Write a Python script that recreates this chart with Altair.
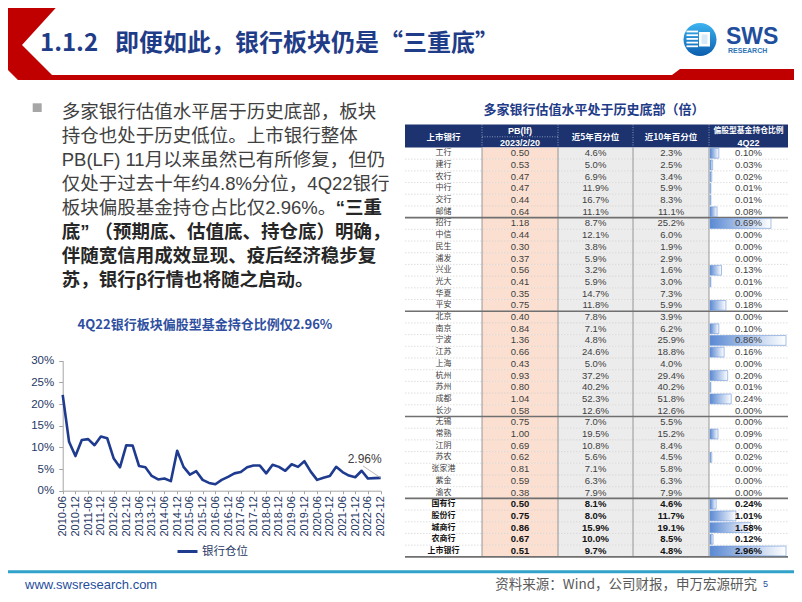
import altair as alt
import pandas as pd

# ---------------------------------------------------------------- data
# Line chart: bank sector weight in active equity funds (%), quarterly
quarters = ["2010-06", "2010-09", "2010-12",
            "2011-03", "2011-06", "2011-09", "2011-12",
            "2012-03", "2012-06", "2012-09", "2012-12",
            "2013-03", "2013-06", "2013-09", "2013-12",
            "2014-03", "2014-06", "2014-09", "2014-12",
            "2015-03", "2015-06", "2015-09", "2015-12",
            "2016-03", "2016-06", "2016-09", "2016-12",
            "2017-03", "2017-06", "2017-09", "2017-12",
            "2018-03", "2018-06", "2018-09", "2018-12",
            "2019-03", "2019-06", "2019-09", "2019-12",
            "2020-03", "2020-06", "2020-09", "2020-12",
            "2021-03", "2021-06", "2021-09", "2021-12",
            "2022-03", "2022-06", "2022-09", "2022-12"]
bank_weight_pct = [22.1, 11.3, 8.0,
                   11.7, 11.9, 10.5, 12.5,
                   12.1, 7.5, 5.4, 10.5,
                   10.4, 5.7, 5.4, 3.4,
                   2.6, 2.8, 2.2, 9.2,
                   5.5, 3.7, 4.5, 2.5,
                   1.8, 1.5, 2.5, 3.2,
                   4.0, 4.3, 5.4, 5.8,
                   5.8, 4.0, 6.0, 5.5,
                   4.6, 6.1, 5.5, 6.8,
                   4.4, 2.5, 3.0, 3.4,
                   5.5, 4.3, 3.5, 3.1,
                   4.6, 2.8, 2.9, 2.96]
x_tick_labels = ["2010-06", "2010-12", "2011-06", "2011-12", "2012-06", "2012-12",
                 "2013-06", "2013-12", "2014-06", "2014-12", "2015-06", "2015-12",
                 "2016-06", "2016-12", "2017-06", "2017-12", "2018-06", "2018-12",
                 "2019-06", "2019-12", "2020-06", "2020-12", "2021-06", "2021-12",
                 "2022-06", "2022-12"]
y_tick_values = [0, 0.05, 0.10, 0.15, 0.20, 0.25, 0.30]
series_name = "银行仓位"

# Table
banks = ["工行", "建行", "农行", "中行", "交行", "邮储",
         "招行", "中信", "民生", "浦发", "兴业", "光大", "华夏", "平安",
         "北京", "南京", "宁波", "江苏", "上海", "杭州", "苏州", "成都", "长沙",
         "无锡", "常熟", "江阴", "苏农", "张家港", "紫金", "渝农",
         "国有行", "股份行", "城商行", "农商行", "上市银行"]
groups = ["国有行"] * 6 + ["股份行"] * 8 + ["城商行"] * 9 + ["农商行"] * 7 + ["合计"] * 5
pb_lf = [0.50, 0.53, 0.47, 0.47, 0.44, 0.64,
         1.18, 0.44, 0.30, 0.37, 0.56, 0.41, 0.35, 0.75,
         0.40, 0.84, 1.36, 0.66, 0.43, 0.93, 0.80, 1.04, 0.58,
         0.75, 1.00, 0.69, 0.62, 0.81, 0.59, 0.38,
         0.50, 0.75, 0.86, 0.67, 0.51]
pct_5y = [4.6, 5.0, 6.9, 11.9, 16.7, 11.1,
          8.7, 12.1, 3.8, 5.9, 3.2, 5.9, 14.7, 11.8,
          7.8, 7.1, 4.8, 24.6, 5.0, 37.2, 40.2, 52.3, 12.6,
          7.0, 19.5, 10.8, 5.6, 7.1, 6.3, 7.9,
          8.1, 8.0, 15.9, 10.0, 9.7]
pct_10y = [2.3, 2.5, 3.4, 5.9, 8.3, 11.1,
           25.2, 6.0, 1.9, 2.9, 1.6, 3.0, 7.3, 5.9,
           3.9, 6.2, 25.9, 18.8, 4.0, 29.4, 40.2, 51.8, 12.6,
           5.5, 15.2, 8.4, 4.5, 5.8, 6.3, 7.9,
           4.6, 11.7, 19.1, 8.5, 4.8]
fund_pct = [0.10, 0.03, 0.02, 0.01, 0.01, 0.08,
            0.69, 0.00, 0.00, 0.00, 0.13, 0.01, 0.00, 0.18,
            0.00, 0.10, 0.86, 0.16, 0.00, 0.20, 0.01, 0.24, 0.00,
            0.00, 0.09, 0.00, 0.02, 0.00, 0.00, 0.00,
            0.24, 1.01, 1.58, 0.12, 2.96]

# Texts
title_num = "1.1.2"
title_txt = "即便如此，银行板块仍是“三重底”"
para_lines = [
    ("多家银行估值水平居于历史底部，板块", "normal"),
    ("持仓也处于历史低位。上市银行整体", "normal"),
    ("PB(LF) 11月以来虽然已有所修复，但仍", "normal"),
    ("仅处于过去十年约4.8%分位，4Q22银行", "normal"),
    ("板块偏股基金持仓占比仅2.96%。", "normal"),
    ("底” （预期底、估值底、持仓底）明确，", "bold"),
    ("伴随宽信用成效显现、疫后经济稳步复", "bold"),
    ("苏，银行β行情也将随之启动。", "bold"),
]
para_bold_tail = "“三重"
chart_title = "4Q22银行板块偏股型基金持仓比例仅2.96%"
table_title = "多家银行估值水平处于历史底部（倍）"
source_txt = "资料来源：Wind，公司财报，申万宏源研究"

# ---------------------------------------------------------------- style
M = 8                      # page margin (page px -> canvas px)
def px(v):
    return v - M

CJK = "Noto Sans CJK SC"
LAT = "Liberation Sans"
MIX = "Liberation Sans, Noto Sans CJK SC"
NAVY = "#1F3864"
TITLE_BLUE = "#1F3C88"
LINE_BLUE = "#1F3B8F"
RED = "#C00000"
one = pd.DataFrame({"k": [0]})


def text(x, y, s, size, color, weight="normal", align="left", font=CJK):
    return alt.Chart(one).mark_text(
        align=align, baseline="middle", fontSize=size, color=color,
        font=font, fontWeight=weight
    ).encode(x=alt.value(px(x)), y=alt.value(px(y)), text=alt.value(s))


def rect(x1, y1, x2, y2, color):
    return alt.Chart(one).mark_rect(color=color).encode(
        x=alt.value(px(x1)), x2=alt.value(px(x2)),
        y=alt.value(px(y1)), y2=alt.value(px(y2)))


def hrule(x1, x2, y, color, w, dash=None):
    kw = dict(color=color, strokeWidth=w)
    if dash:
        kw["strokeDash"] = dash
    return alt.Chart(one).mark_rule(**kw).encode(
        x=alt.value(px(x1)), x2=alt.value(px(x2)), y=alt.value(px(y)))


def vrule(x, y1, y2, color, w, dash=None):
    kw = dict(color=color, strokeWidth=w)
    if dash:
        kw["strokeDash"] = dash
    return alt.Chart(one).mark_rule(**kw).encode(
        x=alt.value(px(x)), y=alt.value(px(y1)), y2=alt.value(px(y2)))


def polygon(points, color):
    path = "M" + " L".join(f"{px(a):.1f},{px(b):.1f}" for a, b in points) + " Z"
    return alt.Chart(one).mark_point(
        shape=path, size=4, filled=True, color=color, opacity=1, strokeWidth=0
    ).encode(x=alt.value(0), y=alt.value(0))


# ---------------------------------------------------------------- header
header = [
    polygon([(7, 0), (63, 0), (22, 45), (52, 75), (672, 75), (680, 69),
             (802, 69), (802, 80), (18, 80), (0, 62), (0, 7)], RED),
    text(40, 43.5, title_num, 24, TITLE_BLUE, "bold"),
    text(115, 43.5, title_txt, 24, TITLE_BLUE, "bold"),
]
# logo
logo_grad = alt.Gradient(gradient="linear", x1=0, y1=0, x2=0, y2=1,
                         stops=[alt.GradientStop(color="#3DB4F0", offset=0),
                                alt.GradientStop(color="#0B5DAE", offset=1)])
header += [
    alt.Chart(one).mark_point(shape="circle", size=1090, filled=True,
                              color=logo_grad, opacity=1, strokeWidth=0)
    .encode(x=alt.value(px(700)), y=alt.value(px(39.5))),
]
for yy in [31.5, 35.2, 38.9, 42.6, 46.3]:
    header.append(hrule(686.5, 698, yy, "white", 1.8))
header += [
    rect(699, 32, 710, 46.5, "white"),
    rect(701.5, 34.5, 707.5, 44, "#D6EAF8"),
    text(726, 36.5, "SWS", 23, "#1F4E9C", "bold", font=LAT),
    text(728, 51, "RESEARCH", 7, "#2E75B6", "bold", font=LAT),
]

# ---------------------------------------------------------------- paragraph
PFS = 18.5
para = [rect(32.7, 103.3, 41.7, 112, "#A6A6A6")]
for i, (s, w) in enumerate(para_lines):
    col = "#262626" if w == "bold" else "#404040"
    para.append(text(61.7, 111.7 + 24 * i, s, PFS, col, w, font=MIX))
para.append(text(382, 111.7 + 24 * 4, para_bold_tail, PFS, "#262626", "bold",
                 align="right", font=MIX))

# ---------------------------------------------------------------- line chart
line_df = pd.DataFrame({"quarter": quarters,
                        "share": [v / 100 for v in bank_weight_pct],
                        "series": series_name})
xsc = alt.Scale(type="point", domain=quarters, range=[px(62.7), px(380.7)], padding=0)
ysc = alt.Scale(domain=[0, 0.30], range=[px(490.7), px(360.7)], nice=False, zero=True)
xax = alt.Axis(values=x_tick_labels, labelAngle=270, title=None, orient="bottom",
               offset=px(490.7) - 586, grid=False, domainColor="#A6A6A6",
               tickColor="#A6A6A6", tickSize=3, labelPadding=2, labelColor=NAVY,
               labelFont=LAT, labelFontSize=11, labelOverlap=False, labelBound=False)
yax = alt.Axis(values=y_tick_values, format=".0%", title=None, orient="left",
               offset=-px(62.7), grid=False, domainColor="#A6A6A6",
               tickColor="#A6A6A6", tickSize=4, labelPadding=5, labelColor=NAVY,
               labelFont=LAT, labelFontSize=11.5)
X = alt.X("quarter:O", scale=xsc, axis=xax, sort=None)
Yv = alt.Y("share:Q", scale=ysc, axis=yax)

line = alt.Chart(line_df).mark_line(strokeWidth=2.6, strokeJoin="round").encode(
    x=X, y=Yv,
    color=alt.Color("series:N", scale=alt.Scale(range=[LINE_BLUE]),
                    legend=alt.Legend(orient="none", legendX=px(176), legendY=px(540),
                                      title=None, symbolType="stroke",
                                      symbolStrokeWidth=3, symbolSize=400,
                                      labelFont=CJK, labelFontSize=11.5,
                                      labelColor=NAVY, padding=0, labelOffset=3)))
last_pt = alt.Chart(line_df).transform_filter(alt.datum.quarter == quarters[-1])
ann_rule = last_pt.mark_rule(color="#A6A6A6", strokeWidth=0.8).encode(
    x=X, y=Yv, x2=alt.value(px(363)), y2=alt.value(px(466)))
ann_text = last_pt.mark_text(dx=-16, dy=-18.6, fontSize=12, font=LAT,
                             color="#404040").encode(
    x=X, y=Yv, text=alt.Text("share:Q", format=".2%"))
line_chart = alt.layer(line, ann_rule, ann_text)

line_deco = [text(205, 325, chart_title, 13, "#2F4FA0", "bold", align="center")]

# ---------------------------------------------------------------- table
tdf = pd.DataFrame({"bank": banks, "group": groups, "pb": pb_lf,
                    "p5": [v / 100 for v in pct_5y],
                    "p10": [v / 100 for v in pct_10y],
                    "fund": [v / 100 for v in fund_pct]})
tdf["row"] = list(range(len(tdf)))
tdf["kind"] = ["sum" if g == "合计" else "bank" for g in groups]
tdf["section_end"] = [i == len(groups) - 1 or groups[i] != groups[i + 1]
                      for i in range(len(groups))]

T_TOP, T_BOT = 147.45, 556.85
tsc = alt.Scale(domain=[-0.5, len(banks) - 0.5], range=[px(T_TOP), px(T_BOT)],
                nice=False, zero=False)
base = alt.Chart(tdf).transform_calculate(top="datum.row - 0.5",
                                          bot="datum.row + 0.5")


def col_bg(x1, x2, color):
    return base.mark_rect(color=color).encode(
        x=alt.value(px(x1)), x2=alt.value(px(x2)),
        y=alt.Y("top:Q", scale=tsc, axis=None), y2="bot:Q")


# field, centre x, number format, font, size
col_specs = [("bank", 443.5, None, CJK, 8), ("pb", 520, ".2f", LAT, 9.5),
             ("p5", 595.5, ".1%", LAT, 9.5), ("p10", 671, ".1%", LAT, 9.5),
             ("fund", 748.5, ".2%", LAT, 9.5)]


def col_text(field, cx, fmt, font, size, kind):
    bold = kind == "sum"
    t = alt.Text(f"{field}:N") if fmt is None else alt.Text(f"{field}:Q", format=fmt)
    return base.transform_filter(alt.datum.kind == kind).mark_text(
        font=font, fontSize=size, baseline="middle",
        fontWeight="bold" if bold else "normal",
        color="#111111" if bold else "#404040"
    ).encode(x=alt.value(px(cx)), y=alt.Y("row:Q", scale=tsc, axis=None), text=t)


bar_grad = alt.Gradient(gradient="linear", x1=0, y1=0, x2=1, y2=0,
                        stops=[alt.GradientStop(color="#5A89D3", offset=0),
                               alt.GradientStop(color="#FFFFFF", offset=1)])
bsc = alt.Scale(domain=[0, 1], range=[px(710), px(786)], nice=False, zero=False)
bars = alt.Chart(tdf).transform_filter("datum.fund > 0").transform_joinaggregate(
    fmax="max(fund)", groupby=["kind"]
).transform_calculate(
    ratio="datum.fund / datum.fmax", r0="0",
    b0="datum.row - 0.42", b1="datum.row + 0.42"
).mark_rect(color=bar_grad, stroke="#6A95D8", strokeWidth=0.6).encode(
    x=alt.X("r0:Q", scale=bsc, axis=None), x2="ratio:Q",
    y=alt.Y("b0:Q", scale=tsc, axis=None), y2="b1:Q")

row_lines = base.mark_rule(color="#C9C9C9", strokeWidth=0.6,
                           strokeDash=[1.5, 1.5]).encode(
    x=alt.value(px(405)), x2=alt.value(px(788)),
    y=alt.Y("bot:Q", scale=tsc, axis=None))
sec_lines = base.transform_filter("datum.section_end").mark_rule(
    color="#707070", strokeWidth=1.6).encode(
    x=alt.value(px(405)), x2=alt.value(px(788)),
    y=alt.Y("bot:Q", scale=tsc, axis=None))

table_layers = [col_bg(482, 558, "#FBE0D1"), col_bg(558, 709, "#ECECEC"), row_lines]
for cx in [482, 558, 633, 709]:
    table_layers.append(vrule(cx, T_TOP, T_BOT, "#808080", 0.8))
table_layers += [sec_lines, bars]
for f, cx, fmt, fnt, sz in col_specs:
    for k in ["bank", "sum"]:
        table_layers.append(col_text(f, cx, fmt, fnt, sz, k))
table = alt.layer(*table_layers)

HDR_TOP = 124.5
table_deco = [
    text(594, 110, table_title, 13, TITLE_BLUE, "bold", align="center"),
    rect(405, HDR_TOP, 788, T_TOP, "#1C3370"),
]
for cx in [482, 558, 633, 709]:
    table_deco.append(vrule(cx, HDR_TOP, T_TOP, "#D0D8E8", 0.6, [1, 1.5]))
table_deco += [
    hrule(482, 558, 136.8, "#D0D8E8", 0.6, [1, 1.5]),
    text(443.5, 136.5, "上市银行", 8.5, "white", "bold", "center"),
    text(520, 131, "PB(lf)", 9, "white", "bold", "center", font=LAT),
    text(520, 142.5, "2023/2/20", 9, "white", "bold", "center", font=LAT),
    text(595.5, 136.5, "近5年百分位", 8.5, "white", "bold", "center"),
    text(671, 136.5, "近10年百分位", 8.5, "white", "bold", "center"),
    text(748.5, 130.8, "偏股型基金持仓比例", 7.8, "white", "bold", "center"),
    text(748.5, 142.5, "4Q22", 9, "white", "bold", "center", font=LAT),
]

# ---------------------------------------------------------------- footer
footer = [
    hrule(0, 802, 571.7, "#31A2C9", 3),
    text(25, 585, "www.swsresearch.com", 13, "#1F4E9C", font=LAT),
    text(757, 585, source_txt, 13.5, "#595959", align="right"),
    text(763, 583.5, "5", 9, "#1F4E9C", font=LAT),
]

chart = alt.layer(
    *header, *para, *line_deco, line_chart, *table_deco, table, *footer
).resolve_scale(
    x="independent", y="independent"
).properties(
    width=786, height=586, padding=0,
    autosize=alt.AutoSizeParams(type="none")
).configure_view(stroke=None)

chart.save("out.html", embed_options={"renderer": "svg", "actions": False})
